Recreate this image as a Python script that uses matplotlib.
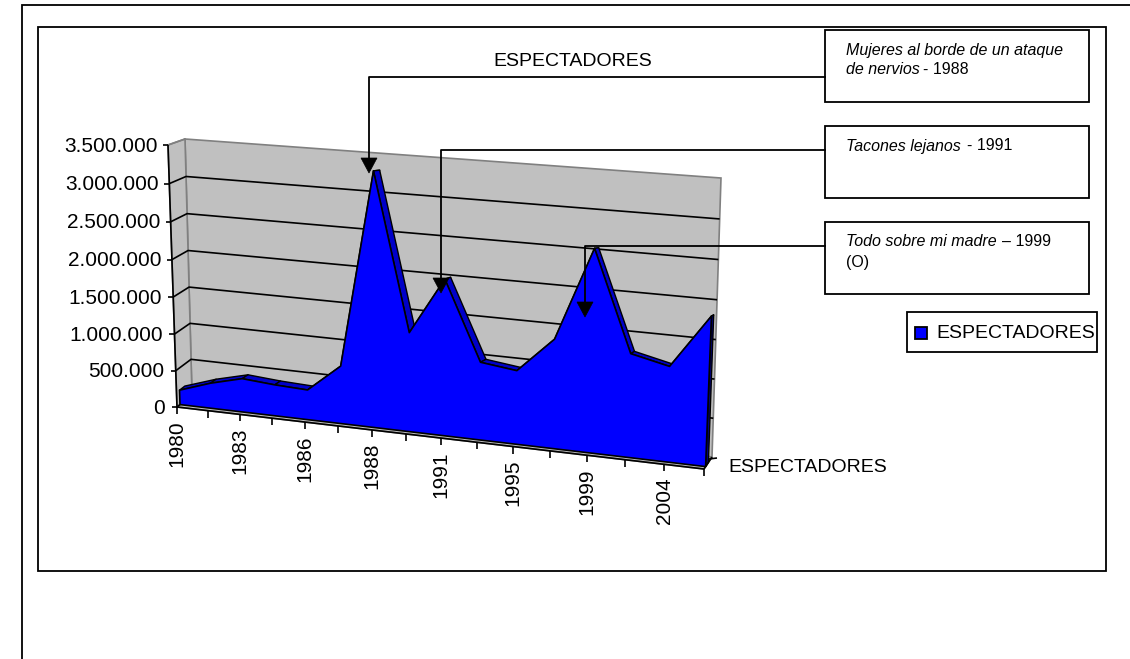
import numpy as np
import matplotlib
matplotlib.use("Agg")
import matplotlib.pyplot as plt
from matplotlib.patches import Polygon, Rectangle

plt.rcParams['font.family'] = ['Liberation Sans', 'DejaVu Sans']

years = ['1980', '', '1983', '', '1986', '', '1988', '', '1991', '', '1995', '', '1999', '', '2004', '']
espectadores = [200000, 345000, 455000, 420000, 400000, 765000, 3300000, 1290000,
                2010000, 1000000, 940000, 1380000, 2530000, 1290000, 1180000, 1830000]
y_ticks = [0, 500000, 1000000, 1500000, 2000000, 2500000, 3000000, 3500000]
y_labels = ['0', '500.000', '1.000.000', '1.500.000', '2.000.000', '2.500.000', '3.000.000', '3.500.000']
series_name = 'ESPECTADORES'
y_max = 3500000

fig = plt.figure(figsize=(11.3, 6.59), dpi=100)
ax = fig.add_axes([0, 0, 1, 1])
ax.set_xlim(0, 1130)
ax.set_ylim(659, 0)
ax.axis('off')

# corners of the 3d box on screen: bottom left, bottom right, top left, top right
front = [(177, 407), (704, 469), (168, 145), (716, 172)]
back = [(192, 395), (712, 457), (185, 139), (721, 178)]


def homography(c):
    src = [(0, 0), (1, 0), (0, 1), (1, 1)]
    A = []
    b = []
    for (u, v), (x, y) in zip(src, c):
        A.append([u, v, 1, 0, 0, 0, -u * x, -v * x])
        A.append([0, 0, 0, u, v, 1, -u * y, -v * y])
        b += [x, y]
    return np.append(np.linalg.solve(np.array(A, float), np.array(b, float)), 1).reshape(3, 3)


H_front = homography(front)
H_back = homography(back)


def proj(i, val, d=0.0):
    # category index, value, depth 0..1 -> screen position
    p = np.array([i / (len(years) - 1), val / y_max, 1.0])
    a = H_front @ p
    c = H_back @ p
    a = a[:2] / a[2]
    c = c[:2] / c[2]
    return tuple(a + (c - a) * d)


n = len(years) - 1
line = dict(color='black', lw=1.2, solid_capstyle='butt', zorder=1)

# frames
ax.add_patch(Rectangle((22, 5), 1120, 670, fc='white', ec='black', lw=1.3))
ax.add_patch(Rectangle((38, 27), 1068, 544, fc='white', ec='black', lw=1.3))

# walls and floor
ax.add_patch(Polygon([proj(0, 0, 1), proj(n, 0, 1), proj(n, y_max, 1), proj(0, y_max, 1)], fc='#c0c0c0', ec='#808080', lw=1.2))
ax.add_patch(Polygon([proj(0, 0), proj(0, 0, 1), proj(0, y_max, 1), proj(0, y_max)], fc='#c0c0c0', ec='#808080', lw=1.2))
ax.add_patch(Polygon([proj(0, 0), proj(n, 0), proj(n, 0, 1), proj(0, 0, 1)], fc='#c0c0c0', ec='#808080', lw=1.2))

for v in y_ticks[1:-1]:
    p0, p1, p2 = proj(0, v), proj(0, v, 1), proj(n, v, 1)
    ax.plot([p0[0], p1[0], p2[0]], [p0[1], p1[1], p2[1]], **line)

# top of the left wall and its ticks, all behind the area
for v in [0, y_max]:
    x, y = proj(0, v)
    ax.plot([x, proj(0, v, 1)[0]], [y, proj(0, v, 1)[1]], color='black' if v == 0 else '#808080', lw=1.2, zorder=1)

# area: side ribbon first, then the front face
d0 = 0.2
d1 = 0.55
for i in range(n):
    q = [proj(i, espectadores[i], d0), proj(i + 1, espectadores[i + 1], d0),
         proj(i + 1, espectadores[i + 1], d1), proj(i, espectadores[i], d1)]
    ax.add_patch(Polygon(q, fc='#0000c8', ec='black', lw=1.0, joinstyle='round'))
q = [proj(n, 0, d0), proj(n, espectadores[n], d0), proj(n, espectadores[n], d1), proj(n, 0, d1)]
ax.add_patch(Polygon(q, fc='#000080', ec='black', lw=1.0))
face = [proj(0, 0, d0)] + [proj(i, espectadores[i], d0) for i in range(n + 1)] + [proj(n, 0, d0)]
ax.add_patch(Polygon(face, fc='#0000ff', ec='black', lw=1.2, joinstyle='round'))

# axes
p0, p1, p2 = proj(0, y_max), proj(0, 0), proj(n, 0)
ax.plot([p0[0], p1[0], p2[0]], [p0[1], p1[1], p2[1]], **line)
ax.plot([p2[0], proj(n, 0, 1)[0]], [p2[1], proj(n, 0, 1)[1]], **line)

for v, lab in zip(y_ticks, y_labels):
    x, y = proj(0, v)
    ax.plot([x - 5, x], [y, y], **line)
    ax.text(x - 10 + (168 - x) * 0.2, y + 1, lab, ha='right', va='center', fontsize=15, color='black')

for i, lab in enumerate(years):
    x, y = proj(i, 0)
    ax.plot([x, x], [y, y + 7], **line)
    if lab:
        ax.text(x, y + 13, lab, rotation=90, ha='center', va='top', fontsize=15, color='black')

x, y = proj(n, 0, 1)
ax.plot([x - 3, x + 5], [y + 2, y + 1], **line)
ax.text(728, 468, series_name, ha='left', va='center', fontsize=14, color='black')
ax.text(573, 61, series_name, ha='center', va='center', fontsize=14, color='black')

# callouts
boxes = [(825, 30, 264, 72), (825, 126, 264, 72), (825, 222, 264, 72)]
for b in boxes:
    ax.add_patch(Rectangle(b[:2], b[2], b[3], fc='white', ec='black', lw=1.3))

links = [(369, 77, 173), (441, 150, 293), (585, 246, 317)]
for x, y, tip in links:
    ax.plot([825, x, x], [y, y, tip - 12], color='black', lw=1.3)
    ax.add_patch(Polygon([(x - 8, tip - 15), (x + 8, tip - 15), (x, tip)], fc='black', ec='black', lw=0.5))

ax.text(846, 50, 'Mujeres al borde de un ataque', style='italic', fontsize=11.5, va='center')
ax.text(846, 69, 'de nervios', style='italic', fontsize=11.5, va='center')
ax.text(923, 69, '- 1988', fontsize=11.5, va='center')
ax.text(846, 146, 'Tacones lejanos', style='italic', fontsize=11.5, va='center')
ax.text(967, 146, '- 1991', fontsize=11.5, va='center')
ax.text(846, 242, 'Todo sobre mi madre', style='italic', fontsize=11.5, va='center')
ax.text(1002, 242, '– 1999', fontsize=11.5, va='center')
ax.text(846, 262, '(O)', fontsize=11.5, va='center')

# legend
ax.add_patch(Rectangle((907, 312), 190, 40, fc='white', ec='black', lw=1.3))
ax.add_patch(Rectangle((915, 327), 12, 12, fc='#0000ff', ec='black', lw=1.3))
ax.text(936, 334, series_name, ha='left', va='center', fontsize=14, color='black')

fig.savefig('out.png', dpi=100)
